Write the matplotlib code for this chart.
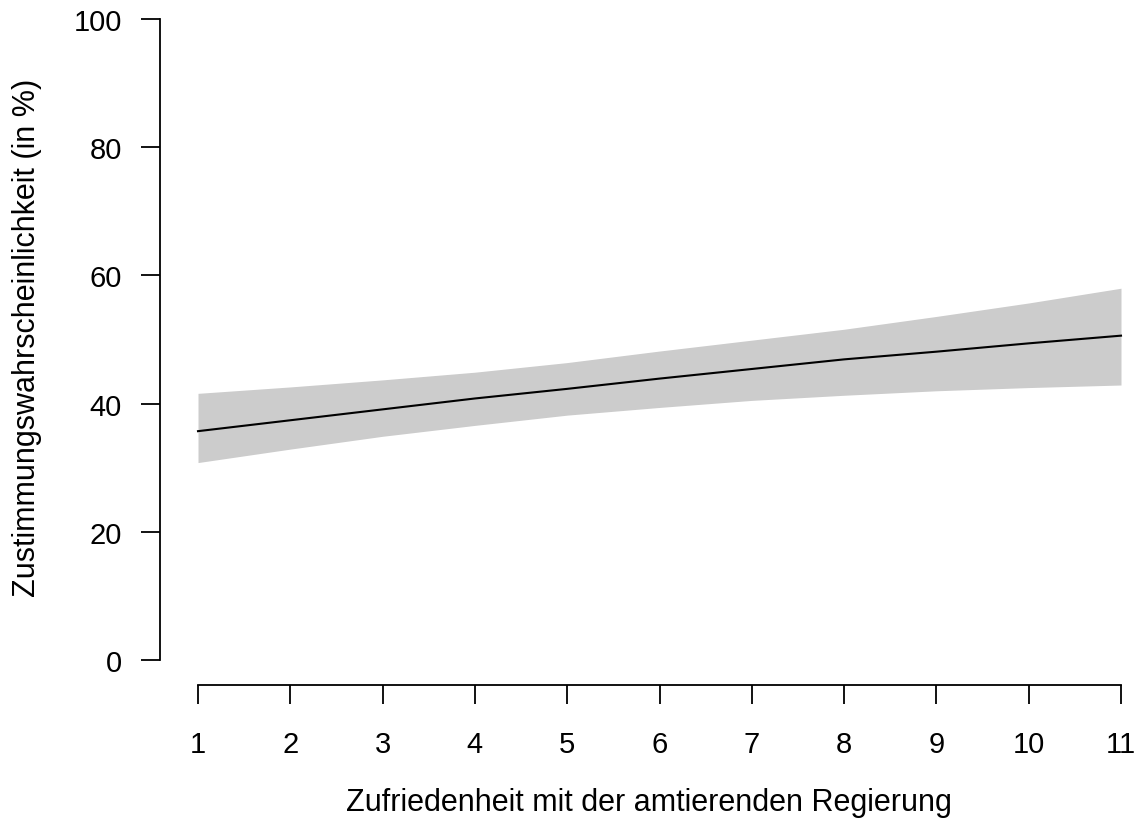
import matplotlib.pyplot as plt

plt.rcParams['font.family'] = ['Liberation Sans', 'DejaVu Sans']

# Zufriedenheit (1..11) und vorhergesagte Wahrscheinlichkeit mit Konfidenzband
zufriedenheit = [1, 2, 3, 4, 5, 6, 7, 8, 9, 10, 11]
prob = [35.7, 37.4, 39.1, 40.8, 42.3, 43.9, 45.4, 46.9, 48.1, 49.4, 50.6]
upper = [41.6, 42.6, 43.7, 44.9, 46.4, 48.2, 49.9, 51.6, 53.6, 55.7, 58.0]
lower = [30.8, 32.9, 34.9, 36.6, 38.2, 39.4, 40.5, 41.3, 42.0, 42.5, 42.9]
yticks = [0, 20, 40, 60, 80, 100]

W, H = 1138, 820
fig = plt.figure(figsize=(W / 100, H / 100), dpi=100)
ax = fig.add_axes([160 / W, (H - 686) / H, (1130 - 160) / W, 686 / H])

ax.fill_between(zufriedenheit, lower, upper, color='#CCCCCC', linewidth=0)
ax.plot(zufriedenheit, prob, color='black', linewidth=1.5)

ax.set_xlim(1 - 38 / 92.3, 11 + 9 / 92.3)
ax.set_ylim(-25 / 6.41, 100 + 20 / 6.41)

for s in ['top', 'right']:
    ax.spines[s].set_visible(False)
ax.spines['left'].set_bounds(0, 100)
ax.spines['bottom'].set_bounds(1, 11)
for s in ['left', 'bottom']:
    ax.spines[s].set_linewidth(1.3)

ax.set_xticks(zufriedenheit)
ax.set_yticks(yticks)
ax.tick_params(direction='out', length=13.5, width=1.3, labelsize=21, pad=14)
ax.tick_params(axis='x', pad=19)

fsz = 22
ax.set_xlabel('Zufriedenheit mit der amtierenden Regierung', fontsize=fsz, va='center')
ax.set_ylabel('Zustimmungswahrscheinlichkeit (in %)', fontsize=fsz, va='center')
ax.xaxis.set_label_coords(649 / W, (H - 803) / H, transform=fig.transFigure)
ax.yaxis.set_label_coords(27 / W, (H - 338) / H, transform=fig.transFigure)

fig.savefig('out.png', dpi=100)
